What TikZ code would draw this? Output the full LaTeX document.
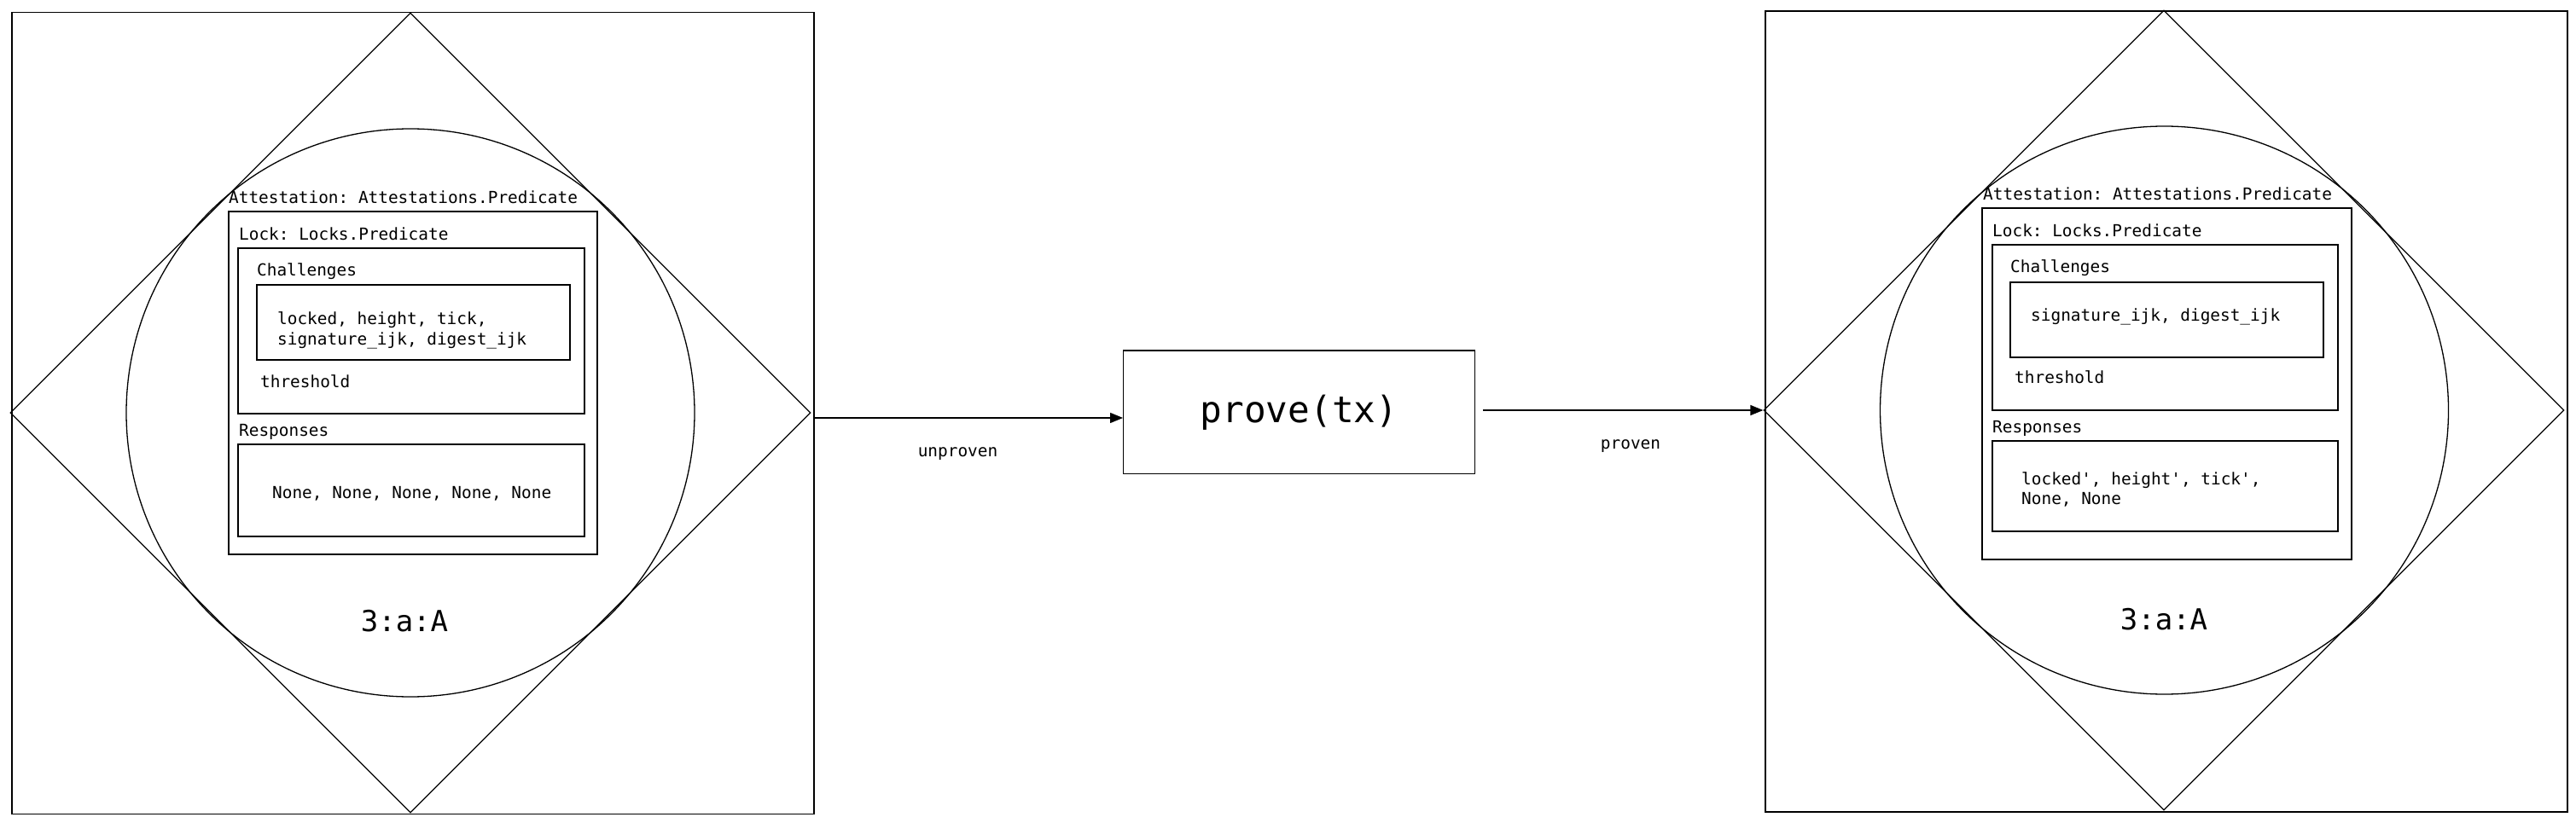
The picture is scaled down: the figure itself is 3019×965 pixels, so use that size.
\documentclass[tikz,border=0pt]{standalone}
\usepackage{fontspec}
\setmonofont{DejaVu Sans Mono}
\usepackage{tikz}
\usetikzlibrary{shapes.geometric,arrows.meta}

\begin{document}
\begin{tikzpicture}[every node/.style={font=\ttfamily\fontsize{19.4}{23.4}\selectfont, inner sep=0pt}, x=1pt, y=-1pt,
	box/.style={draw, line width=1.3pt},
	lbl/.style={anchor=base west, align=left},
	arr/.style={line width=1.3pt, -{Triangle[length=15pt, width=12pt]}}]
	\useasboundingbox (0,0) rectangle (3019,965);

	% unproven side
	\node[box, minimum width=940, minimum height=940] (sqL) at (484,484.5) {};
	\node[box, diamond, minimum width=938, minimum height=938] (dmL) at (481,484) {};
	\node[box, circle, minimum size=666] (ciL) at (481,484) {};
	\node[lbl] (attlabL) at (268,239) {Attestation: Attestations.Predicate};
	\node[box, minimum width=432, minimum height=402] (attL) at (484,449) {};
	\node[lbl] (locklabL) at (280,281.7) {Lock: Locks.Predicate};
	\node[box, minimum width=406, minimum height=194] (lockL) at (482,388) {};
	\node[lbl] (chlabL) at (301,324) {Challenges};
	\node[box, minimum width=367, minimum height=88] (chL) at (484.5,378) {};
	\node[lbl] (chtxtL) at (325,404) {locked, height, tick,\\signature\_ijk, digest\_ijk};
	\node[lbl] (thrL) at (305,454) {threshold};
	\node[lbl] (reslabL) at (280,511.7) {Responses};
	\node[box, minimum width=406, minimum height=108] (resL) at (482,575) {};
	\node[lbl] (restxtL) at (319,584) {None, None, None, None, None};
	\node[font=\ttfamily\fontsize{34}{40}\selectfont, anchor=base] (idL) at (474,740) {3:a:A};

	% prove
	\node[box, minimum width=411.6, minimum height=144.7, font=\ttfamily\fontsize{42.7}{50}\selectfont] (prove) at (1522.5,483.3) {prove(tx)};
	\node (unp) at (1122.5,532) {unproven};
	\node (pro) at (1911,523) {proven};

	% proven side
	\node[box, minimum width=940, minimum height=939] (sqR) at (2539,482.5) {};
	\node[box, diamond, minimum width=938, minimum height=938] (dmR) at (2536,481) {};
	\node[box, circle, minimum size=666] (ciR) at (2536.5,481) {};
	\node[lbl] (attlabR) at (2324,235) {Attestation: Attestations.Predicate};
	\node[box, minimum width=433, minimum height=412] (attR) at (2539.5,450) {};
	\node[lbl] (locklabR) at (2335,278) {Lock: Locks.Predicate};
	\node[box, minimum width=405, minimum height=194] (lockR) at (2537.5,384) {};
	\node[lbl] (chlabR) at (2356,320) {Challenges};
	\node[box, minimum width=367, minimum height=88] (chR) at (2539.5,375) {};
	\node[lbl] (chtxtR) at (2380,376.7) {signature\_ijk, digest\_ijk};
	\node[lbl] (thrR) at (2361,449.3) {threshold};
	\node[lbl] (reslabR) at (2335,507.7) {Responses};
	\node[box, minimum width=405, minimum height=106] (resR) at (2537.5,570) {};
	\node[lbl] (restxtR) at (2369,591.7) {locked', height', tick',\\None, None};
	\node[font=\ttfamily\fontsize{34}{40}\selectfont, anchor=base] (idR) at (2536,738) {3:a:A};

	\coordinate (pE) at ([xshift=9pt]prove.east);
	\draw[arr] ([yshift=-5.5pt]sqL.east) -- ([yshift=-5.5pt]sqL.east -| prove.west);
	\draw[arr] (pE |- dmR.west) -- (dmR.west);
\end{tikzpicture}
\end{document}
